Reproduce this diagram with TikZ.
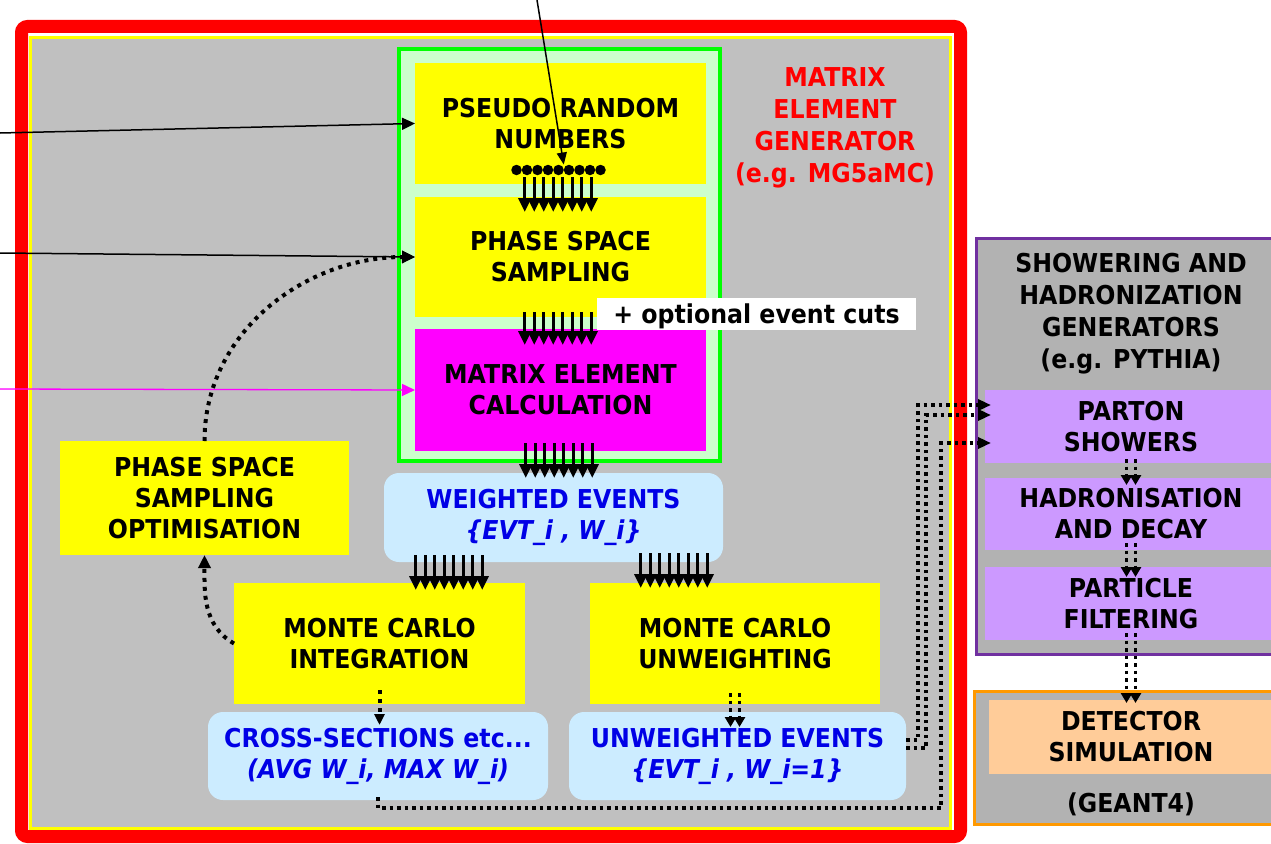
\documentclass[tikz,border=0pt]{standalone}
\usepackage{fontspec}
\setmainfont{DejaVu Sans}[FakeStretch=0.91]
\usetikzlibrary{arrows.meta,calc}
\definecolor{bggray}{HTML}{C0C0C0}
\definecolor{shgray}{HTML}{B2B2B2}
\definecolor{myyellow}{HTML}{FFFF00}
\definecolor{lgreen}{HTML}{CCFFCC}
\definecolor{mygreen}{HTML}{00FF00}
\definecolor{mymag}{HTML}{FF00FF}
\definecolor{lblue}{HTML}{CCECFF}
\definecolor{tblue}{HTML}{0000E6}
\definecolor{lpurple}{HTML}{CC99FF}
\definecolor{dpurple}{HTML}{7030A0}
\definecolor{myorange}{HTML}{FF9900}
\definecolor{peach}{HTML}{FFCC99}
\definecolor{myred}{HTML}{FF0000}
\begin{document}
\begin{tikzpicture}[x=1pt,y=1pt,
  txt/.style={inner sep=0pt, outer sep=0pt, align=center, font=\bfseries\fontsize{26}{31}\selectfont},
  ybox/.style={txt, fill=myyellow},
  mbox/.style={txt, fill=mymag},
  pbox/.style={txt, fill=lpurple},
  obox/.style={txt, fill=peach},
  wbox/.style={txt, fill=white},
  bbox/.style={txt, fill=lblue, rounded corners=15pt, text=tblue},
  megframe/.style={draw=myred, line width=13pt, fill=white, rounded corners=6pt, inner sep=0pt},
  megarea/.style={draw=myyellow, line width=3pt, fill=bggray, inner sep=0pt},
  gframe/.style={draw=mygreen, line width=4pt, fill=lgreen, inner sep=0pt},
  shbox/.style={draw=dpurple, line width=3pt, fill=shgray, inner sep=0pt},
  dtbox/.style={draw=myorange, line width=3pt, fill=shgray, inner sep=0pt},
  dotn/.style={circle, fill=black, inner sep=0pt, minimum size=10.5pt},
  bund/.style={line width=3.2pt, -{Triangle[width=12.5pt,length=14pt]}},
  solidarr/.style={line width=1.5pt, -{Triangle[width=12pt,length=13pt]}},
  dotl/.style={line width=4pt, dash pattern=on 4pt off 5pt},
  dotlb/.style={line width=3.5pt, dash pattern=on 3.5pt off 4pt},
  bighead/.style={-{Triangle[width=12pt,length=13pt]}},
  midhead/.style={-{Triangle[width=11pt,length=13pt]}},
  smallhead/.style={-{Triangle[width=11pt,length=10pt]}}
]
\useasboundingbox (0,0) rectangle (1271,-843);
\clip (0,0) rectangle (1271,-843);

% ---- matrix element generator frame ----
\node[megframe, minimum width=939, minimum height=810] (meg) at (491,-431.5) {};
\node[megarea, minimum width=919.5, minimum height=790] (area) at (490.25,-433) {};
\node[gframe, minimum width=321, minimum height=412] (gbox) at (559.5,-255) {};
\node[ybox, minimum width=291, minimum height=121] (prn) at (560.5,-123.5) {PSEUDO RANDOM\\NUMBERS};
\node[ybox, minimum width=291, minimum height=120] (pss) at (560.5,-257) {PHASE SPACE\\SAMPLING};
\node[mbox, minimum width=291, minimum height=122] (mec) at (560.5,-390) {MATRIX ELEMENT\\CALCULATION};
\node[txt, anchor=north, text=myred, font=\bfseries\fontsize{26}{32}\selectfont] (megtxt) at (835,-67.5) {MATRIX\\ELEMENT\\GENERATOR\\(e.g. MG5aMC)};

\node[bbox, minimum width=339, minimum height=89] (we) at (553.5,-517.5) {WEIGHTED EVENTS\\\textit{\{EVT\_i , W\_i\}}};
\node[ybox, minimum width=289, minimum height=114] (psso) at (204.5,-498) {PHASE SPACE\\SAMPLING\\OPTIMISATION};
\node[ybox, minimum width=291, minimum height=121] (mci) at (379.5,-643.5) {MONTE CARLO\\INTEGRATION};
\node[ybox, minimum width=290, minimum height=121] (mcu) at (735,-643.5) {MONTE CARLO\\UNWEIGHTING};
\node[bbox, minimum width=340, minimum height=88] (xs) at (378,-756) {CROSS-SECTIONS etc...\\\textit{(AVG W\_i, MAX W\_i)}};
\node[bbox, minimum width=337, minimum height=88] (uwe) at (737.5,-756) {UNWEIGHTED EVENTS\\\textit{\{EVT\_i , W\_i=1\}}};

% ---- showering / detector ----
\node[shbox, minimum width=313.5, minimum height=416] (shower) at (1133.25,-446.5) {};
\node[txt, anchor=north, font=\bfseries\fontsize{26}{32}\selectfont] (shtitle) at (1131,-253.5) {SHOWERING AND\\HADRONIZATION\\GENERATORS\\(e.g. PYTHIA)};
\node[pbox, minimum width=292, minimum height=73] (ps) at (1131,-426.5) {PARTON\\SHOWERS};
\node[pbox, minimum width=292, minimum height=72] (had) at (1131,-514) {HADRONISATION\\AND DECAY};
\node[pbox, minimum width=292, minimum height=73] (pf) at (1131,-603.5) {PARTICLE\\FILTERING};
\node[dtbox, minimum width=315.5, minimum height=133] (detbox) at (1132.25,-758) {};
\node[obox, minimum width=284, minimum height=74] (det) at (1131,-737) {DETECTOR\\SIMULATION};
\node[txt, anchor=base] (geant) at (1131,-812.5) {(GEANT4)};

% ---- random number dots ----
\foreach \k in {0,...,8} \node[dotn] (d\k) at (516.5+10.5*\k,-170) {};

% ---- arrow bundles ----
\foreach \k in {0,...,7}{
  \draw[bund] ($(prn.south)+(-35.75+9.5*\k,7)$) coordinate (t) -- ($(t |- pss.north)+(0,-15)$);
  \draw[bund] ($(pss.south)+(-35.75+9.5*\k,5)$) coordinate (t) -- ($(t |- mec.north)+(0,-16)$);
  \draw[bund] ($(mec.south)+(-34.75+9.5*\k,8)$) coordinate (t) -- ($(t |- we.north)+(0,-5)$);
  \draw[bund] ($(we.south)+(-137.75+9.5*\k,7)$) coordinate (t) -- ($(t |- mci.north)+(0,-7)$);
  \draw[bund] ($(we.south)+(87.25+9.5*\k,9)$) coordinate (t) -- ($(t |- mcu.north)+(0,-5)$);
}

\node[wbox, minimum width=319, minimum height=32, text depth=0pt] (cuts) at (756.5,-314) {+ optional event cuts};

% ---- incoming arrows ----
\coordinate (inA) at (0,-133);
\coordinate (inB) at (0,-253);
\coordinate (inC) at (0,-389);
\coordinate (inD) at (537,0);
\draw[solidarr] (inA) -- (prn.west);
\draw[solidarr] (inB) -- (pss.west);
\draw[solidarr, draw=mymag, fill=mymag, line width=1.3pt] (inC) -- (mec.west);
\draw[solidarr, -{Triangle[width=10pt,length=12pt]}] (inD) -- ($(d4.north)!0.5!(d5.north)$);

% ---- dotted feedback ----
\draw[dotl, bighead] (psso.north) to[out=90,in=180] (pss.west);
\draw[dotl, bighead] (mci.west) to[out=150,in=-90] (psso.south);
\draw[dotl, -{Triangle[width=10pt,length=11pt]}] ($(mci.south)+(0,14)$) coordinate (t) -- ($(t |- xs.north)+(0,-13)$);
\foreach \s in {-4.5,4.5}
  \draw[dotlb, smallhead] ($(mcu.south)+(\s,11)$) coordinate (t) -- ($(t |- uwe.north)+(0,-15)$);

% ---- to parton showers ----
\draw[dotlb, midhead] ($(uwe.east)+(0,16)$) -| ($(ps.west)+(-67,21.5)$) -- ($(ps.west)+(6,21.5)$);
\draw[dotlb, midhead] ($(uwe.east)+(0,8)$) -| ($(ps.west)+(-59,11.5)$) -- ($(ps.west)+(6,11.5)$);
\draw[dotlb, midhead] ($(xs.south)+(0,3)$) -- ++(0,-11) -| ($(ps.west)+(-44,-16.5)$) -- ($(ps.west)+(6,-16.5)$);

% ---- right column chain ----
\foreach \s in {-4.5,4.5}{
  \draw[dotlb, smallhead] ($(ps.south)+(\s,4)$) -- ($(had.north)+(\s,-7)$);
  \draw[dotlb, smallhead] ($(had.south)+(\s,7)$) -- ($(pf.north)+(\s,-10)$);
  \draw[dotlb, smallhead] ($(pf.south)+(\s,7)$) -- ($(det.north)+(\s,-3)$);
}
\end{tikzpicture}
\end{document}
